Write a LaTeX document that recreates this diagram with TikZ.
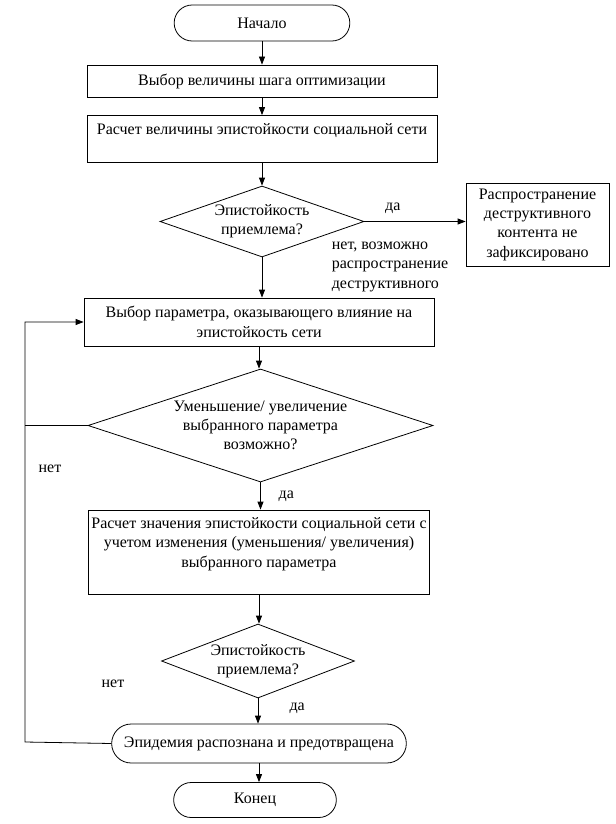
\documentclass[tikz,border=0pt]{standalone}
\usepackage{fontspec}
\setmainfont{Liberation Serif}
\usetikzlibrary{shapes.geometric, shapes.misc, arrows.meta}

\begin{document}
\begin{tikzpicture}[x=0.75pt, y=-0.75pt, line width=0.6pt,
   -{Triangle[length=6pt, width=4.5pt]},
   every node/.style = {font=\fontsize{12pt}{14.5pt}\selectfont},
   term/.style = {draw, rounded rectangle, inner sep=2pt},
   block/.style = {draw, rectangle, align=center, inner sep=2pt},
   cond/.style = {draw, diamond, align=center, inner sep=0pt}]
   \useasboundingbox (0,0) rectangle (616,824);

   \node[term, minimum width=135.75pt, minimum height=27pt] (nach) at (262,23) {Начало};
   \node[block, minimum width=262.5pt, minimum height=24pt] (b1) at (262,81) {Выбор величины шага оптимизации};
   \node[block, minimum width=262.5pt, minimum height=35.25pt] (b2) at (262,139) {Расчет величины эпистойкости социальной сети\\ \mbox{}};
   \node[cond, shape aspect=2.87, minimum width=153pt, minimum height=53.25pt] (d1) at (262,221.5) {Эпистойкость\\приемлема?};
   \node[block, minimum width=107.25pt, minimum height=62.25pt] (r1) at (537.5,224.5) {Распространение\\деструктивного\\контента не\\зафиксировано};
   \node[anchor=north west, align=left] (net0) at (327,237) {нет, возможно\\распространение\\деструктивного};
   \node[block, minimum width=262.5pt, minimum height=36pt] (b3) at (259,322) {Выбор параметра, оказывающего влияние на\\эпистойкость сети};
   \node[cond, shape aspect=3.05, minimum width=258.75pt, minimum height=84.75pt] (d2) at (260.5,425.5) {Уменьшение/ увеличение\\выбранного параметра\\возможно?};
   \node[block, minimum width=253.5pt, minimum height=63pt] (b4) at (259,552) {Расчет значения эпистойкости социальной сети с\\учетом изменения (уменьшения/ увеличения)\\выбранного параметра\\ \mbox{}};
   \node[cond, shape aspect=2.6, minimum width=144.75pt, minimum height=55.5pt] (d3) at (258,661) {Эпистойкость\\приемлема?};
   \node[term, minimum width=225pt, minimum height=29.25pt] (epid) at (259,743.5) {Эпидемия распознана и предотвращена};
   \node[term, minimum width=126pt, minimum height=26.25pt] (kon) at (255,800) {Конец};
   \node (net1) at (50,469) {нет};
   \node (net2) at (113,684) {нет};
   \coordinate (c1) at (25,742);

   % down the main line
   \draw (nach.south) -- (nach.south |- b1.north);
   \draw (b1.south) -- (b1.south |- b2.north);
   \draw (b2.south) -- (b2.south |- d1.north);
   \draw (d1.south) -- (d1.south |- b3.north);
   \draw (b3.south) -- (b3.south |- d2.north);
   \draw (d2.south) -- node[right, xshift=10pt] (da2) {да} (d2.south |- b4.north);
   \draw (b4.south) -- (b4.south |- d3.north);
   \draw (d3.south) -- node[right, xshift=20pt, yshift=2pt] (da3) {да} (d3.south |- epid.north);
   \draw (epid.south) -- (epid.south |- kon.north);
   %
   \draw (d1.east) -- node[pos=0.28, above, yshift=2pt] (da1) {да} (d1.east -| r1.west);
   % back loop
   \draw (epid.west) -- (c1) |- (b3.west);
   \draw[-] (d2.west) -- (d2.west -| c1);
\end{tikzpicture}
\end{document}
